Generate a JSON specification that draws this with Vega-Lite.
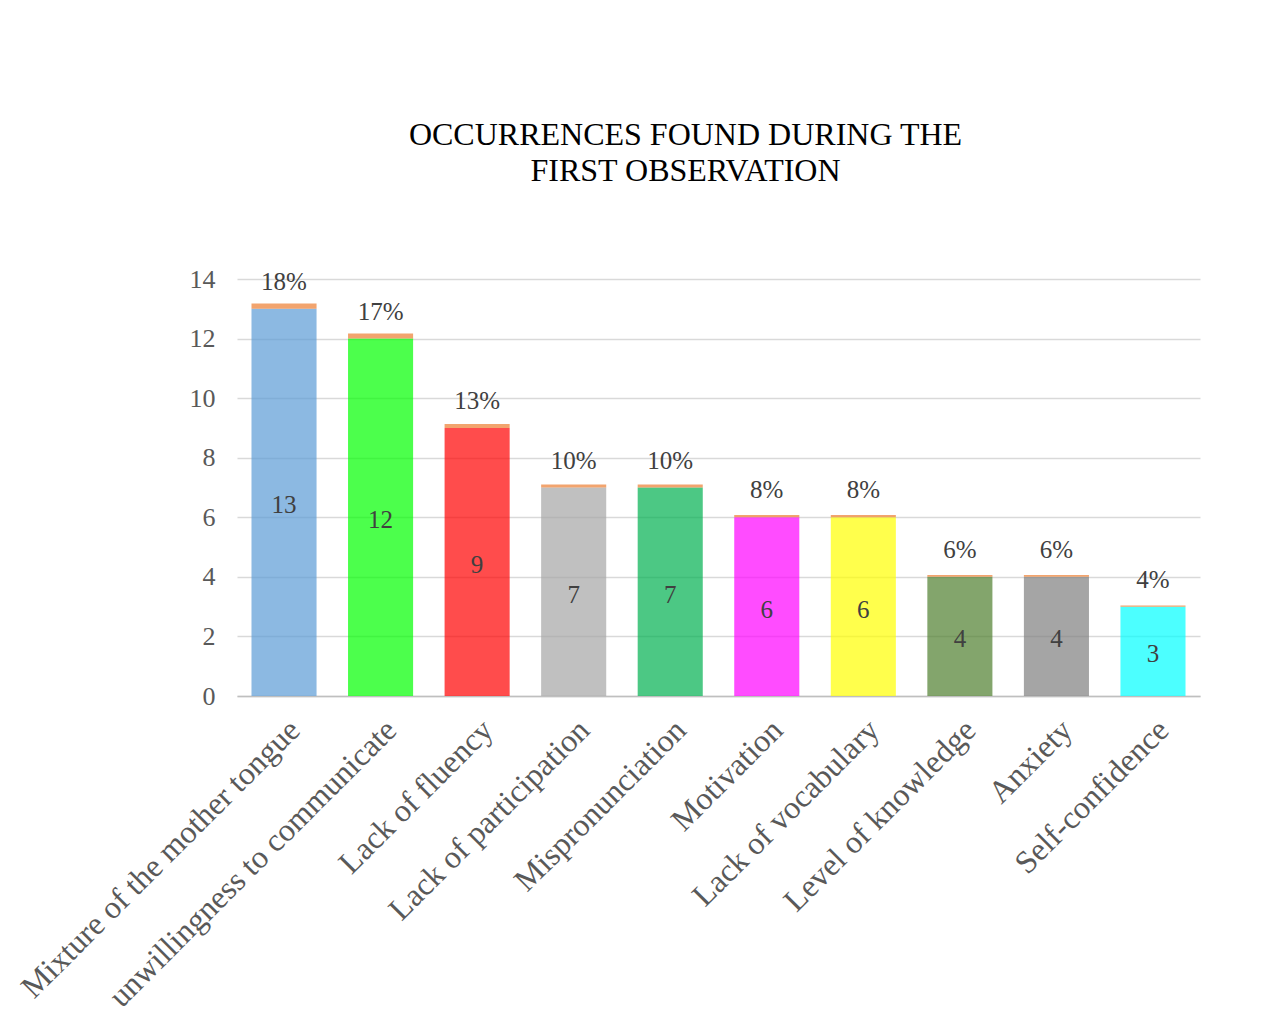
{
  "$schema": "https://vega.github.io/schema/vega-lite/v6.json",
  "width": 963,
  "height": 417,
  "autosize": "none",
  "padding": {"left": 237, "top": 279, "right": 78, "bottom": 337},
  "background": "white",
  "title": {
    "text": ["OCCURRENCES FOUND DURING THE", "FIRST OBSERVATION"],
    "font": "Liberation Serif",
    "fontSize": 32,
    "fontWeight": "normal",
    "color": "#000000",
    "anchor": "middle",
    "frame": "group",
    "dx": -33,
    "offset": 78,
    "lineHeight": 36
  },
  "config": {"view": {"stroke": null}},
  "data": {
    "values": [
      {"category": "Mixture of the mother tongue", "count": 13, "pct": 0.18},
      {"category": "unwillingness to communicate", "count": 12, "pct": 0.17},
      {"category": "Lack of fluency", "count": 9, "pct": 0.13},
      {"category": "Lack of participation", "count": 7, "pct": 0.10},
      {"category": "Mispronunciation", "count": 7, "pct": 0.10},
      {"category": "Motivation", "count": 6, "pct": 0.08},
      {"category": "Lack of vocabulary", "count": 6, "pct": 0.08},
      {"category": "Level of knowledge", "count": 4, "pct": 0.06},
      {"category": "Anxiety", "count": 4, "pct": 0.06},
      {"category": "Self-confidence", "count": 3, "pct": 0.04}
    ]
  },
  "encoding": {
    "x": {
      "field": "category",
      "type": "nominal",
      "sort": null,
      "scale": {"paddingInner": 0.326, "paddingOuter": 0.15},
      "axis": {
        "title": null,
        "labelAngle": -45,
        "labelFont": "Liberation Serif",
        "labelFontSize": 32,
        "labelColor": "#595959",
        "labelLimit": 0,
        "labelPadding": 18,
        "ticks": false,
        "domainColor": "#BFBFBF",
        "domainWidth": 1.5
      }
    }
  },
  "layer": [
    {
      "layer": [
        {
          "transform": [{"fold": ["count", "pct"], "as": ["measure", "value"]}],
          "mark": {"type": "bar", "opacity": 0.7},
          "encoding": {
            "y": {
              "field": "value",
              "type": "quantitative",
              "stack": "zero",
              "scale": {"domain": [0, 14]},
              "axis": {
                "title": null,
                "values": [0, 2, 4, 6, 8, 10, 12, 14],
                "labelFont": "Liberation Serif",
                "labelFontSize": 26,
                "labelColor": "#595959",
                "labelPadding": 22,
                "domain": false,
                "ticks": false,
                "gridColor": "#D9D9D9",
                "gridWidth": 1.5
              }
            },
            "order": {"field": "measure", "sort": "ascending"},
            "color": {
              "condition": {"test": "datum.measure === 'pct'", "value": "#ED7D31"},
              "field": "category",
              "type": "nominal",
              "legend": null,
              "scale": {
                "domain": ["Mixture of the mother tongue", "unwillingness to communicate", "Lack of fluency", "Lack of participation", "Mispronunciation", "Motivation", "Lack of vocabulary", "Level of knowledge", "Anxiety", "Self-confidence"],
                "range": ["#5B9BD5", "#00FF00", "#FF0000", "#A5A5A5", "#00B050", "#FF00FF", "#FFFF00", "#4E7F2E", "#7F7F7F", "#00FFFF"]
              }
            }
          }
        },
        {
          "mark": {"type": "text", "font": "Liberation Serif", "fontSize": 25, "color": "#404040", "baseline": "middle", "dy": -27},
          "encoding": {
            "y": {"field": "count", "type": "quantitative"},
            "text": {"field": "pct", "type": "quantitative", "format": ".0%"}
          }
        }
      ]
    },
    {
      "mark": {"type": "text", "font": "Liberation Serif", "fontSize": 25, "color": "#404040", "baseline": "middle", "dy": 3},
      "encoding": {
        "y": {"field": "count", "type": "quantitative", "scale": {"domain": [0, 28]}, "axis": null},
        "text": {"field": "count", "type": "quantitative"}
      }
    }
  ],
  "resolve": {"scale": {"y": "independent"}, "axis": {"y": "independent"}}
}
